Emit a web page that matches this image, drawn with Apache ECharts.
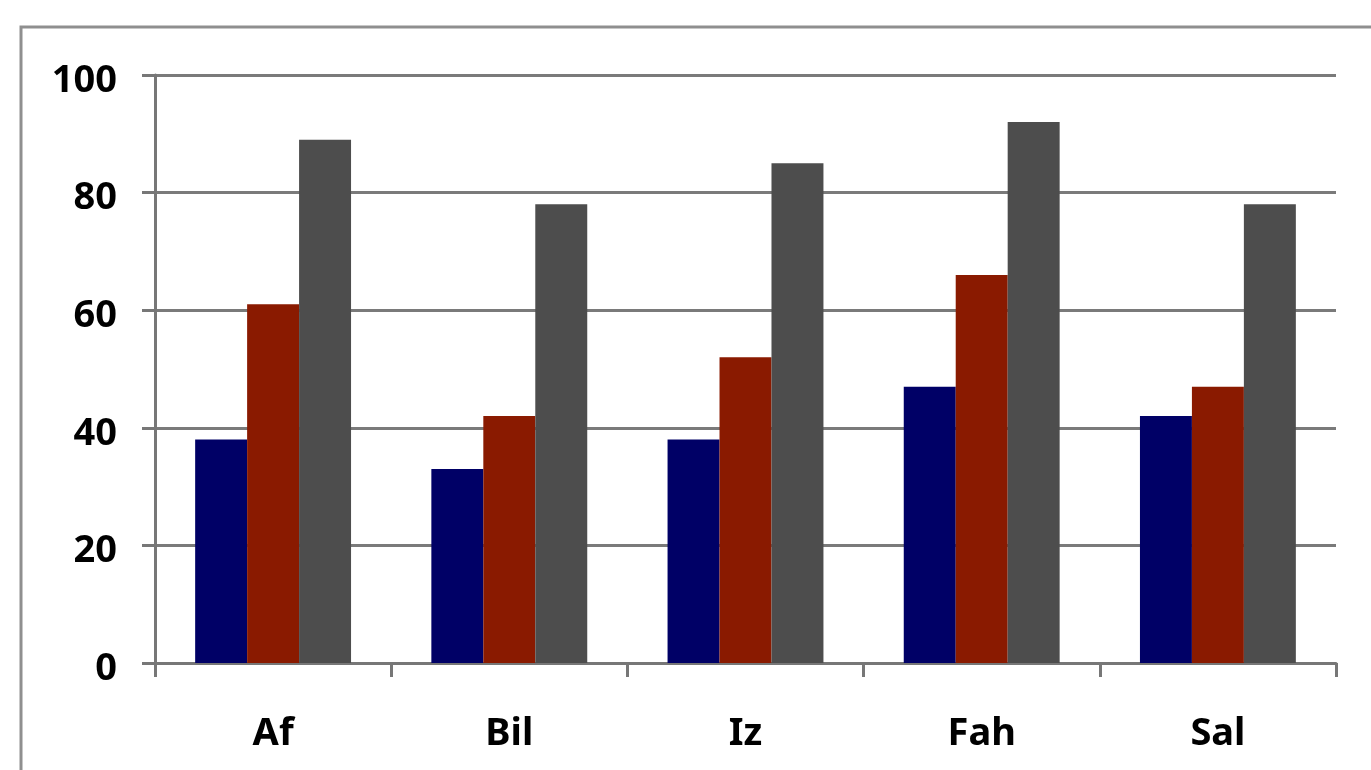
<!DOCTYPE html>
<html>
<head>
<meta charset="utf-8">
<script src="https://cdn.jsdelivr.net/npm/echarts@6/dist/echarts.min.js"></script>
<style>
  html, body { margin: 0; padding: 0; background: #fff; }
  #main { width: 1371px; height: 770px; }
</style>
</head>
<body>
<div id="main"></div>
<script>
var categories = ['Af', 'Bil', 'Iz', 'Fah', 'Sal'];
var seriesA = [38, 33, 38, 47, 42];
var seriesB = [61, 42, 52, 66, 47];
var seriesC = [89, 78, 85, 92, 78];

var chart = echarts.init(document.getElementById('main'));
var labelFont = { color: '#000', fontWeight: 'bold', fontSize: 38, fontFamily: 'Noto Sans' };

var option = {
    backgroundColor: '#fff',
    animation: false,
    graphic: [{
        type: 'polyline',
        shape: { points: [[21, 800], [21, 27], [1400, 27]] },
        style: { stroke: '#8f8f8f', lineWidth: 3, fill: null }
    }],
    grid: { left: 155, right: 35, top: 75, bottom: 107 },
    xAxis: {
        type: 'category',
        data: categories,
        axisLine: { lineStyle: { color: '#777', width: 3 } },
        axisTick: { show: true, length: 14, lineStyle: { color: '#777', width: 3 } },
        axisLabel: Object.assign({ margin: 52 }, labelFont)
    },
    yAxis: {
        type: 'value',
        min: 0, max: 100, interval: 20,
        axisLine: { show: true, lineStyle: { color: '#777', width: 3 } },
        axisTick: { show: true, length: 13, lineStyle: { color: '#777', width: 3 } },
        splitLine: { lineStyle: { color: '#7a7a7a', width: 3 } },
        axisLabel: Object.assign({ margin: 38, verticalAlign: 'top', lineHeight: 12 }, labelFont)
    },
    series: [
        { type: 'bar', data: seriesA, barGap: '0%', barCategoryGap: '34%', itemStyle: { color: '#000066' } },
        { type: 'bar', data: seriesB, barGap: '0%', barCategoryGap: '34%', itemStyle: { color: '#8a1a00' } },
        { type: 'bar', data: seriesC, barGap: '0%', barCategoryGap: '34%', itemStyle: { color: '#4d4d4d' } }
    ]
};
chart.setOption(option);
</script>
</body>
</html>
